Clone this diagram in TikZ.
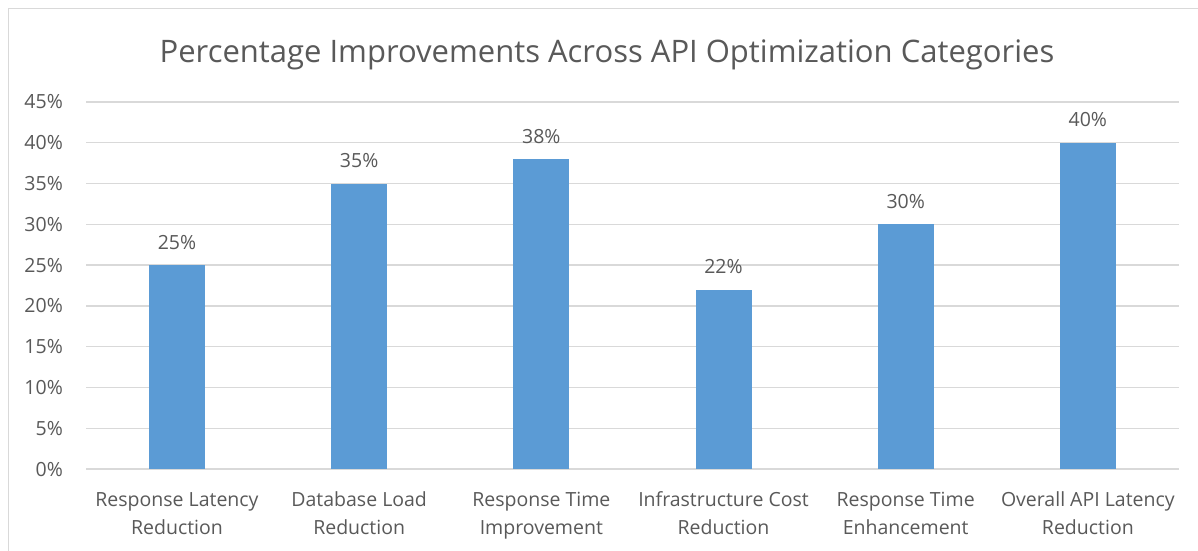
\documentclass[tikz,border=0pt]{standalone}
\usepackage{fontspec}
\setmainfont{Open Sans}
\definecolor{axistext}{HTML}{595959}
\definecolor{gridgray}{HTML}{D9D9D9}
\definecolor{barblue}{HTML}{5B9BD5}
\begin{document}
\begin{tikzpicture}[x=1pt,y=-1pt,
  charttitle/.style={font=\fontsize{31}{37}\selectfont, text=axistext, inner sep=0pt, anchor=base},
  ticklabel/.style={font=\fontsize{19.5}{23}\selectfont, text=axistext, inner sep=0pt, anchor=base east},
  catlabel/.style={font=\fontsize{19.5}{28}\selectfont, text=axistext, inner sep=0pt, align=center, anchor=base},
  valuelabel/.style={font=\fontsize{19.5}{23}\selectfont, text=axistext, inner sep=0pt, anchor=base},
  gridline/.style={draw=gridgray, line width=1.4pt},
  barrect/.style={fill=barblue, draw=none}]
  \useasboundingbox (0,0) rectangle (1198,550);
  \fill[white] (0,0) rectangle (1198,550);
  % chart frame (top and left edges inside the page)
  \draw[draw=gridgray, line width=1.4pt] (8.5,551) -- (8.5,8.5) -- (1199,8.5);
  % title
  \node[charttitle] (title) at (607,62) {Percentage Improvements Across API Optimization Categories};
  % horizontal gridlines and tick labels: 0% at y=469, 8.156 units per percent
  \foreach \p [count=\i] in {0,5,...,45} {
    \pgfmathsetmacro{\yy}{469-8.156*\p}
    \coordinate (gl\i) at (86,\yy);
    \coordinate (gr\i) at (1179,\yy);
    \draw[gridline] (gl\i) -- (gr\i);
    \node[ticklabel] (tick\i) at (63,\yy+7) {\p\%};
  }
  % bars with value labels
  \foreach \v/\nm [count=\i] in {25/a,35/b,38/c,22/d,30/e,40/f} {
    \pgfmathsetmacro{\xc}{177+182.17*(\i-1)}
    \pgfmathsetmacro{\yt}{469-8.156*\v}
    \fill[barrect] (\xc-28,469) rectangle (\xc+28,\yt);
    \coordinate (top\nm) at (\xc,\yt);
    \node[valuelabel] (val\nm) at ([yshift=16pt]top\nm) {\v\%};
  }
  % category labels (anchor sits on the second line's baseline)
  \node[catlabel] (cata) at (177,534) {Response Latency\\Reduction};
  \node[catlabel] (catb) at (359.17,534) {Database Load\\Reduction};
  \node[catlabel] (catc) at (541.34,534) {Response Time\\Improvement};
  \node[catlabel] (catd) at (723.51,534) {Infrastructure Cost\\Reduction};
  \node[catlabel] (cate) at (905.68,534) {Response Time\\Enhancement};
  \node[catlabel] (catf) at (1087.85,534) {Overall API Latency\\Reduction};
\end{tikzpicture}
\end{document}
